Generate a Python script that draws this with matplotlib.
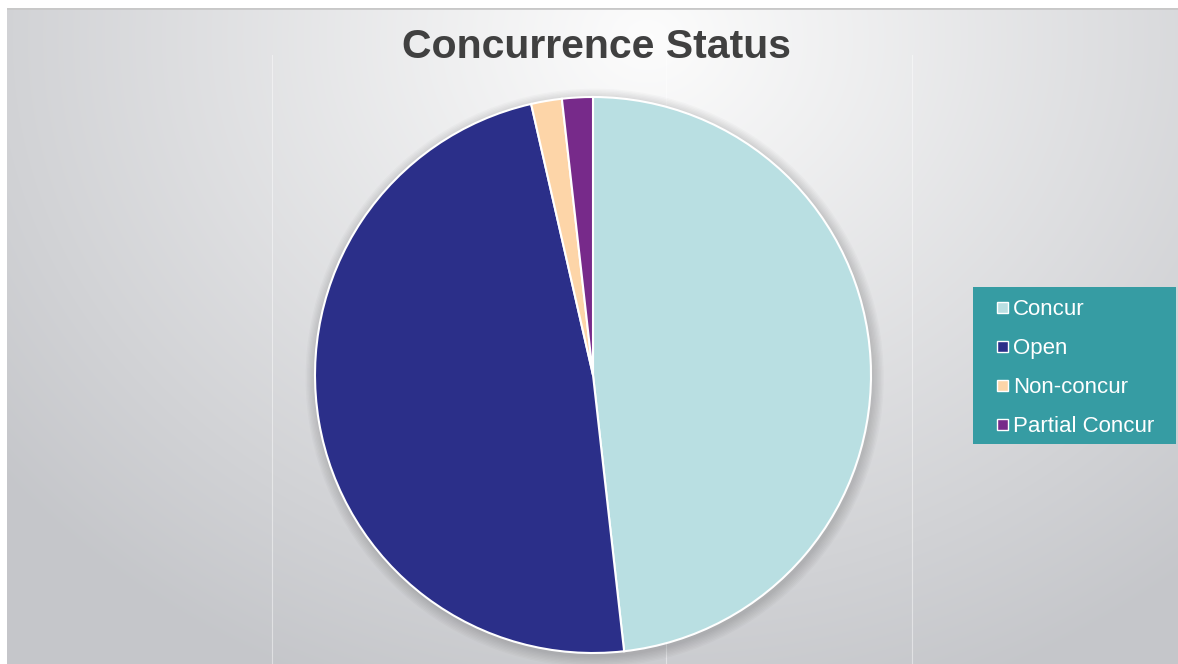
import matplotlib.pyplot as plt
import numpy as np
from matplotlib.patches import Rectangle, Circle

plt.rcParams["font.family"] = ["Liberation Sans", "DejaVu Sans"]

# data
labels = ["Concur", "Open", "Non-concur", "Partial Concur"]
counts = [27, 27, 1, 1]
colors = ["#b9dfe2", "#2b2f89", "#fdd5a8", "#772a8a"]
titleName = "Concurrence Status"

W, H = 1178, 664
fig = plt.figure(figsize=(W / 100, H / 100), dpi=100)
fig.patch.set_facecolor("white")

# background with soft radial gradient
bg = fig.add_axes([7 / W, 0, 1 - 7 / W, (H - 8) / H])
yy, xx = np.mgrid[0:656, 0:1171]
d = np.sqrt((xx - 640) ** 2 + ((yy - 30) / 0.85) ** 2)
t = np.clip(d / 820, 0, 1) ** 1.0
light = np.array([0.99, 0.99, 0.99])
dark = np.array([0.775, 0.78, 0.795])
img = light[None, None, :] * (1 - t[..., None]) + dark[None, None, :] * t[..., None]
bg.imshow(img, aspect="auto", extent=[0, 1, 0, 1], origin="upper")
for xl in [272, 666, 912]:  # faint guide lines behind the chart
    bg.plot([(xl - 7) / (W - 7)] * 2, [0, 1 - 47 / 656], color="white", lw=0.8, alpha=0.45)
bg.axhline(1, color="#c8c8c8", lw=2)
bg.set_xlim(0, 1)
bg.set_ylim(0, 1)
bg.axis("off")

# pie axes
cx, cy, r = 593, 375, 278
pad = 30
ax = fig.add_axes([(cx - r - pad) / W, (H - cy - r - pad) / H, 2 * (r + pad) / W, 2 * (r + pad) / H])

# soft shadow around the pie
for k in range(8):
    ax.add_patch(Circle((0.006, -0.01), 1 + 0.005 * (8 - k), color="black", alpha=0.02, lw=0))

ax.pie(counts, colors=colors, startangle=90, counterclock=False, radius=1,
       wedgeprops=dict(edgecolor="white", linewidth=1.5))
lim = (r + pad) / r
ax.set_xlim(-lim, lim)
ax.set_ylim(-lim, lim)
ax.set_aspect("equal")
ax.axis("off")

fig.text(596 / W, 1 - 47 / H, titleName, ha="center", va="center",
         fontsize=29.5, fontweight="bold", color="#404040")

# legend box drawn by hand so the padding matches
lx0, ly0, lx1, ly1 = 973, 287, 1176, 444
fig.patches.append(Rectangle((lx0 / W, 1 - ly1 / H), (lx1 - lx0) / W, (ly1 - ly0) / H,
                             transform=fig.transFigure, facecolor="#369ca3", edgecolor="none"))
row_y = 307
for lab, col in zip(labels, colors):
    fig.patches.append(Rectangle((997 / W, 1 - (row_y + 5.5) / H), 11 / W, 11 / H,
                                 transform=fig.transFigure, facecolor=col,
                                 edgecolor="white", linewidth=1))
    fig.text(1013 / W, 1 - row_y / H, lab, ha="left", va="center_baseline",
             fontsize=16, color="white")
    row_y += 39

fig.savefig("out.png", dpi=100)
